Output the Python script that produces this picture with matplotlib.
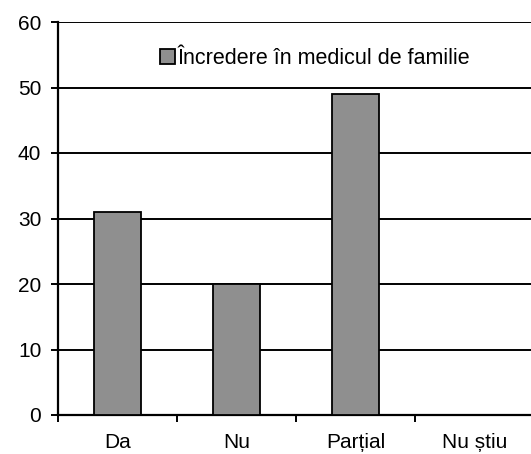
import matplotlib.pyplot as plt

categories = ['Da', 'Nu', 'Parțial', 'Nu știu']
values = [31, 20, 49, 0]
series_name = 'Încredere în medicul de familie'
y_ticks = [0, 10, 20, 30, 40, 50, 60]

plt.rcParams['font.family'] = ['Liberation Sans', 'DejaVu Sans']
plt.rcParams['font.size'] = 15

fig = plt.figure(figsize=(5.31, 4.54), dpi=100)
ax = fig.add_axes([58 / 531, 39 / 454, 476 / 531, 393 / 454])

x = list(range(len(categories)))
ax.bar(x, values, width=0.4, color='#8f8f8f', edgecolor='black', linewidth=1.3,
       label=series_name, zorder=3)

ax.set_xlim(-0.5, len(categories) - 0.5)
ax.set_ylim(0, 60)
ax.set_yticks(y_ticks)
ax.yaxis.grid(True, color='black', linewidth=1.4, zorder=0)
ax.set_axisbelow(True)

# category boundaries get the tick marks, labels sit at the centres
ax.set_xticks([i - 0.5 for i in x])
ax.set_xticklabels([])
ax.set_xticks(x, minor=True)
ax.set_xticklabels(categories, minor=True)
ax.tick_params(axis='x', which='major', length=5, width=1.4, direction='out')
ax.tick_params(axis='x', which='minor', length=0, pad=13)
ax.tick_params(axis='y', length=5, width=1.4, pad=7)

for side in ['top', 'right']:
    ax.spines[side].set_visible(False)
for side in ['left', 'bottom']:
    ax.spines[side].set_linewidth(1.6)

ax.legend(loc='center', bbox_to_anchor=(0.54, 0.908), frameon=False,
          handlelength=0.7, handleheight=0.7, handletextpad=0.15, fontsize=15.5)

fig.savefig('out.png', dpi=100)
